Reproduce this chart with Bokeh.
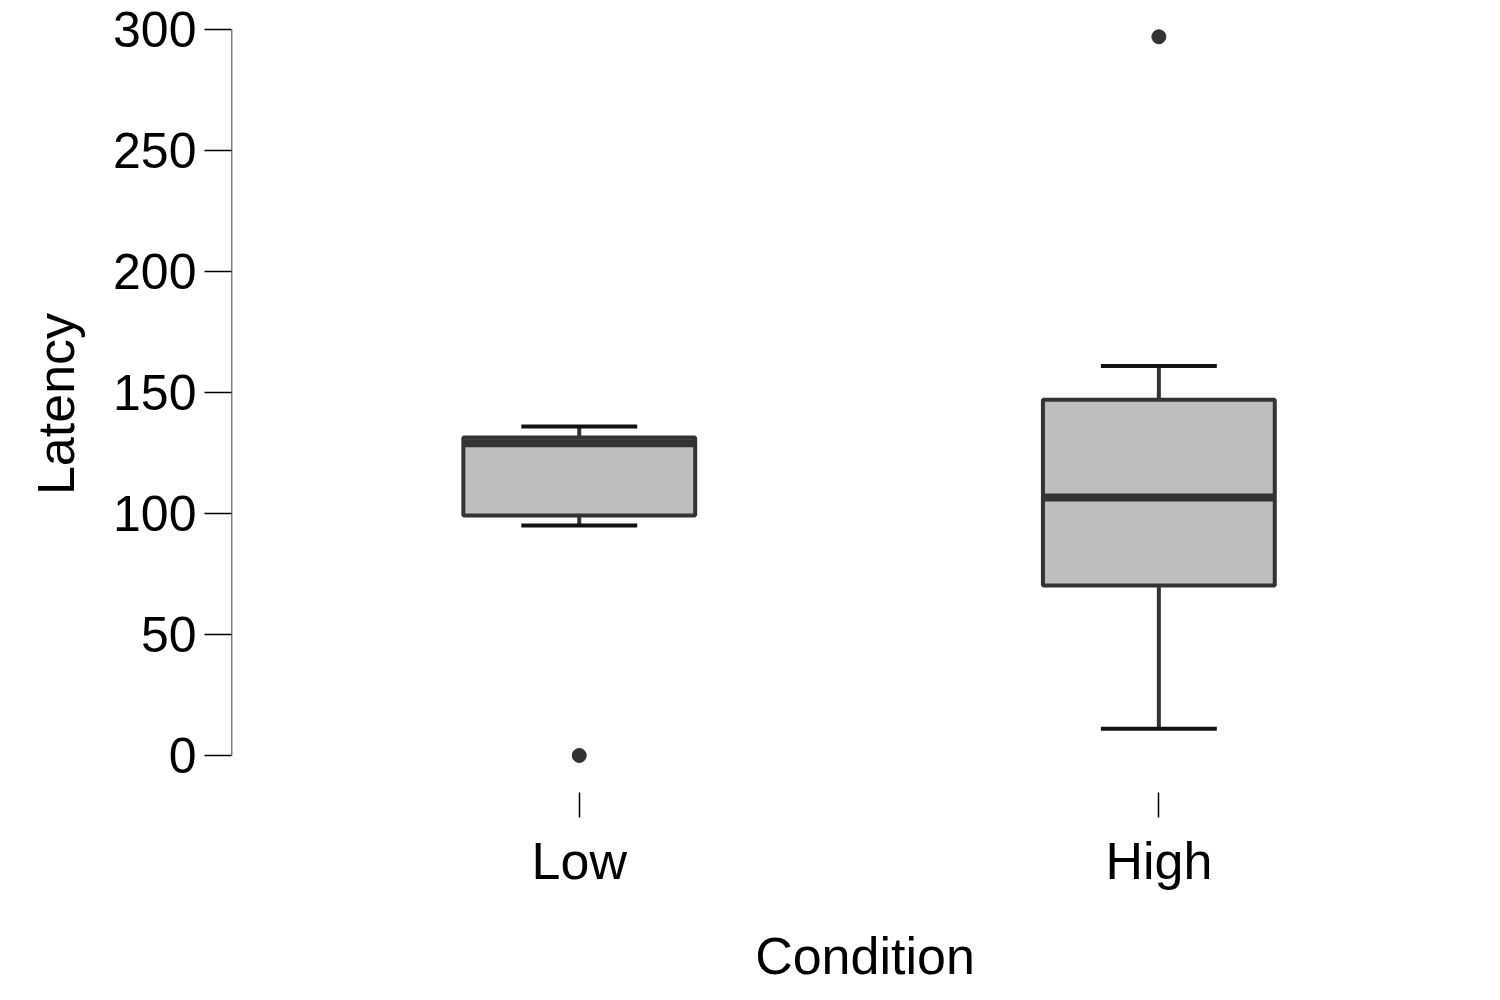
from bokeh.plotting import figure
from bokeh.embed import file_html
from bokeh.resources import INLINE
from bokeh.models import FixedTicker

categories = ["Low", "High"]
xpos = [1, 2]
whisker_low = [95, 11]
q1 = [99.2, 70.2]
median = [129, 106.6]
q3 = [131.4, 147]
whisker_high = [136, 161]
outlier_x = [1, 2]
outlier_y = [0, 297]
yticks = [0, 50, 100, 150, 200, 250, 300]

FONT = "Liberation Sans"
p = figure(width=1498, height=990, x_range=(0.4, 2.586), y_range=(-15.3, 305.8),
           output_backend="svg", toolbar_location=None,
           min_border_left=231, min_border_right=0, min_border_top=15, min_border_bottom=198)
p.outline_line_color = None
p.grid.visible = False
p.background_fill_color = "white"

p.segment(x0=xpos, x1=xpos, y0=whisker_low, y1=q1, line_color="#333333", line_width=4)
p.segment(x0=xpos, x1=xpos, y0=q3, y1=whisker_high, line_color="#333333", line_width=4)
caps_l = [x - 0.1 for x in xpos]
caps_r = [x + 0.1 for x in xpos]
p.segment(x0=caps_l, x1=caps_r, y0=whisker_low, y1=whisker_low, line_color="#111111", line_width=4)
p.segment(x0=caps_l, x1=caps_r, y0=whisker_high, y1=whisker_high, line_color="#111111", line_width=4)
p.vbar(x=xpos, width=0.4, bottom=q1, top=q3, fill_color="#bebebe", line_color="#333333", line_width=4)
p.segment(x0=[x - 0.2 for x in xpos], x1=[x + 0.2 for x in xpos], y0=median, y1=median,
          line_color="#333333", line_width=8)
p.scatter(outlier_x, outlier_y, size=14, color="#333333")
p.segment(x0=[0.4], x1=[0.4], y0=[yticks[0]], y1=[yticks[-1]], line_color="black", line_width=1.5)

ya = p.yaxis[0]
ya.ticker = FixedTicker(ticks=yticks)
ya.axis_line_color = None
ya.major_tick_out = 27
ya.major_tick_in = 0
ya.minor_tick_line_color = None
ya.major_tick_line_width = 1.5
ya.major_label_text_font = FONT
ya.major_label_text_font_size = "50px"
ya.major_label_text_color = "black"
ya.major_label_standoff = 8
ya.axis_label = "Latency"
ya.axis_label_text_font = FONT
ya.axis_label_text_font_size = "52px"
ya.axis_label_text_font_style = "normal"
ya.axis_label_text_color = "black"
ya.axis_label_standoff = 25

xa = p.xaxis[0]
xa.ticker = FixedTicker(ticks=xpos)
xa.major_label_overrides = {1: "Low", 2: "High"}
xa.axis_line_color = None
xa.major_tick_out = 25
xa.major_tick_in = 0
xa.minor_tick_line_color = None
xa.major_tick_line_width = 1.5
xa.major_label_text_font = FONT
xa.major_label_text_font_size = "52px"
xa.major_label_text_color = "black"
xa.major_label_standoff = 14
xa.axis_label = "Condition"
xa.axis_label_text_font = FONT
xa.axis_label_text_font_size = "52px"
xa.axis_label_text_font_style = "normal"
xa.axis_label_text_color = "black"
xa.axis_label_standoff = 34

open("out.html", "w").write(file_html(p, INLINE))
